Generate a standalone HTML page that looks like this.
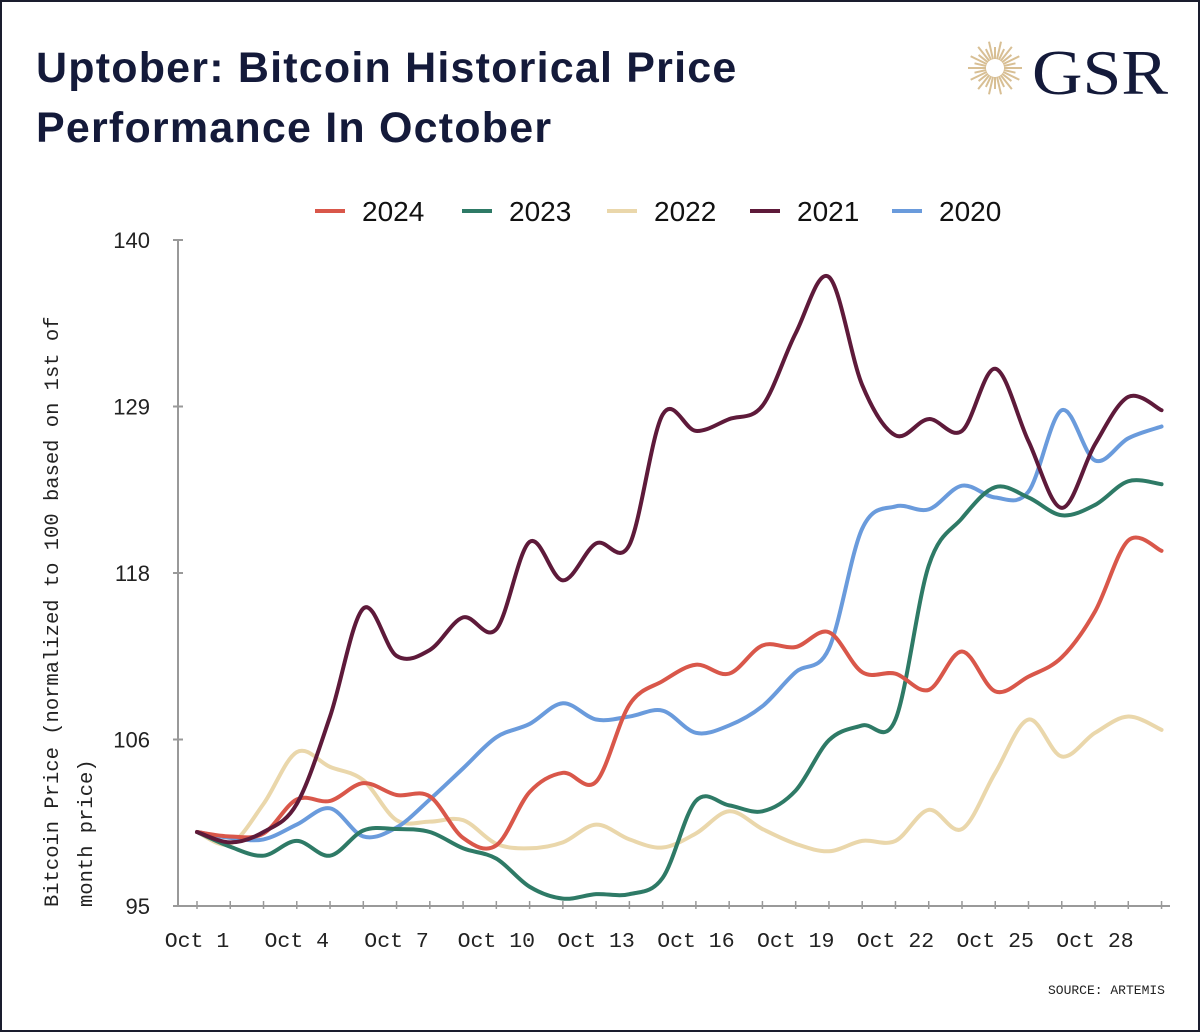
<!DOCTYPE html>
<html><head><meta charset="utf-8"><style>
html,body{margin:0;padding:0;background:#fff;}
#wrap{position:relative;width:1200px;height:1032px;box-sizing:border-box;border:2px solid #1a1d2e;background:#fff;overflow:hidden;}
h1{position:absolute;left:34px;top:36px;margin:0;font:bold 43px/60px "Liberation Sans",sans-serif;color:#141a3a;letter-spacing:1.2px;}
svg{position:absolute;left:0;top:0;}
</style></head><body>
<div id="wrap">
<h1>Uptober: Bitcoin Historical Price<br>Performance In October</h1>
<svg id="chart" width="1200" height="1032">
  <g>
    <g id="sun" stroke="#d8bf94" stroke-width="2"></g>
    <text x="1030" y="92" font-family="Liberation Serif,serif" font-size="64" fill="#141a3a" textLength="136" lengthAdjust="spacingAndGlyphs">GSR</text>
  </g>
  <g id="legend"></g>
  <g id="axes"></g>
  <g id="lines"></g>
  <text transform="translate(56,905) rotate(-90)" font-family="Liberation Mono,monospace" font-size="20.5" fill="#222">Bitcoin Price (normalized to 100 based on 1st of</text>
  <text transform="translate(90,905) rotate(-90)" font-family="Liberation Mono,monospace" font-size="20.5" fill="#222">month price)</text>
  <text x="1163" y="992" text-anchor="end" font-family="Liberation Mono,monospace" font-size="13" fill="#222">SOURCE: ARTEMIS</text>
</svg>
</div>
<script>
const days = [1,2,3,4,5,6,7,8,9,10,11,12,13,14,15,16,17,18,19,20,21,22,23,24,25,26,27,28,29,30];
const xTickLabels = ["Oct 1","Oct 4","Oct 7","Oct 10","Oct 13","Oct 16","Oct 19","Oct 22","Oct 25","Oct 28"];
const xTickDays = [1,4,7,10,13,16,19,22,25,28];
const yTicks = [95,106.25,117.5,128.75,140];
const yTickLabels = ["95","106","118","129","140"];
const seriesNames = ["2024","2023","2022","2021","2020"];
const seriesColors = ["#d9574a","#2e7a66","#ead7ab","#5e1a3a","#6a9bdc"];
const s2024 = [100,99.7,99.9,102.2,102.1,103.3,102.5,102.4,99.6,99.1,102.7,104,103.4,108.6,110.2,111.3,110.7,112.6,112.5,113.5,110.8,110.7,109.6,112.2,109.5,110.5,111.8,114.9,119.7,119];
const s2023 = [100,99,98.4,99.4,98.4,100.1,100.2,100,98.9,98.2,96.3,95.5,95.8,95.8,96.9,102.1,101.8,101.4,102.8,106.2,107.2,107.6,118,121.2,123.3,122.6,121.4,122.1,123.7,123.5];
const s2022 = [100,99.2,101.9,105.4,104.4,103.5,100.8,100.7,100.8,99.2,98.9,99.3,100.5,99.5,98.95,99.9,101.4,100.2,99.2,98.7,99.4,99.4,101.5,100.2,104,107.6,105.1,106.7,107.8,106.9];
const s2021 = [100,99.3,100,101.9,107.8,115.1,111.9,112.3,114.5,113.7,119.6,117,119.5,119.4,128.2,127.1,127.9,128.8,133.7,137.5,130.2,126.8,127.9,127.1,131.3,126.4,121.9,126.2,129.4,128.5];
const s2020 = [100,99.6,99.5,100.5,101.6,99.7,100.3,102.2,104.3,106.4,107.3,108.7,107.6,107.8,108.2,106.7,107.2,108.5,110.8,112.4,120.5,122,121.8,123.4,122.6,123,128.5,125.1,126.6,127.4];
const allSeries = [s2024,s2023,s2022,s2021,s2020];

const NS='http://www.w3.org/2000/svg';
const X0=195, DX=33.26, YTOP=238, YBOT=904, VMIN=95, VMAX=140;
const xS = d => X0 + (d-1)*DX;
const yS = v => YBOT - (v-VMIN)/(VMAX-VMIN)*(YBOT-YTOP);
function mk(tag, attrs, parent){const e=document.createElementNS(NS,tag);for(const k in attrs)e.setAttribute(k,attrs[k]);parent.appendChild(e);return e;}

const sun=document.getElementById('sun');
for(let i=0;i<28;i++){const a=i*Math.PI/14;const r1=9,r2=(i%2?21:27);
 const l=mk('line',{x1:993+r1*Math.cos(a),y1:66+r1*Math.sin(a),x2:993+r2*Math.cos(a),y2:66+r2*Math.sin(a)},sun);
 
 }

const ax=document.getElementById('axes');
const yl=mk('line',{x1:176,y1:YTOP,x2:176,y2:YBOT,stroke:'#999','stroke-width':2},ax);


const xl=mk('line',{x1:176,y1:YBOT,x2:1168,y2:YBOT,stroke:'#999','stroke-width':2},ax);


yTicks.forEach((v,i)=>{
  const t=mk('line',{x1:171,y1:yS(v),x2:181,y2:yS(v),stroke:'#999','stroke-width':2},ax);
  
  
  const tx=mk('text',{x:148,y:yS(v)+8,'text-anchor':'end','font-family':'Liberation Sans,sans-serif','font-size':22,fill:'#222'},ax);
  tx.textContent=yTickLabels[i];
  
  
});
days.forEach(d=>{
  const t=mk('line',{x1:xS(d),y1:YBOT-5,x2:xS(d),y2:YBOT+3,stroke:'#999','stroke-width':1.5},ax);
  
  
});
xTickDays.forEach((d,i)=>{
  const tx=mk('text',{x:xS(d),y:945,'text-anchor':'middle','font-family':'Liberation Mono,monospace','font-size':21.5,fill:'#222'},ax);
  tx.textContent=xTickLabels[i];
  
  
});

const lg=document.getElementById('legend');
const lgX=[313,460,605,748,890];
seriesNames.forEach((n,i)=>{
  const g=mk('g',{},lg);
  
  
  mk('line',{x1:lgX[i],y1:209,x2:lgX[i]+30,y2:209,stroke:seriesColors[i],'stroke-width':4},g);
  const t=mk('text',{x:lgX[i]+47,y:219,'font-family':'Liberation Sans,sans-serif','font-size':28,fill:'#111'},g);
  t.textContent=n;
});

function pathFor(vals){
  const p=vals.map((v,i)=>[xS(days[i]),yS(v)]);
  let d='M'+p[0][0]+','+p[0][1];
  for(let i=0;i<p.length-1;i++){
    const p0=p[Math.max(0,i-1)],p1=p[i],p2=p[i+1],p3=p[Math.min(p.length-1,i+2)];
    const k=1/6;
    d+=' C'+(p1[0]+(p2[0]-p0[0])*k)+','+(p1[1]+(p2[1]-p0[1])*k)+' '+(p2[0]-(p3[0]-p1[0])*k)+','+(p2[1]-(p3[1]-p1[1])*k)+' '+p2[0]+','+p2[1];
  }
  return d;
}
const lines=document.getElementById('lines');
[2,4,1,0,3].forEach(i=>{
  const pth=mk('path',{d:pathFor(allSeries[i]),fill:'none',stroke:seriesColors[i],'stroke-width':4,'stroke-linejoin':'round','stroke-linecap':'round'},lines);
  
  
});
</script>
</body></html>
